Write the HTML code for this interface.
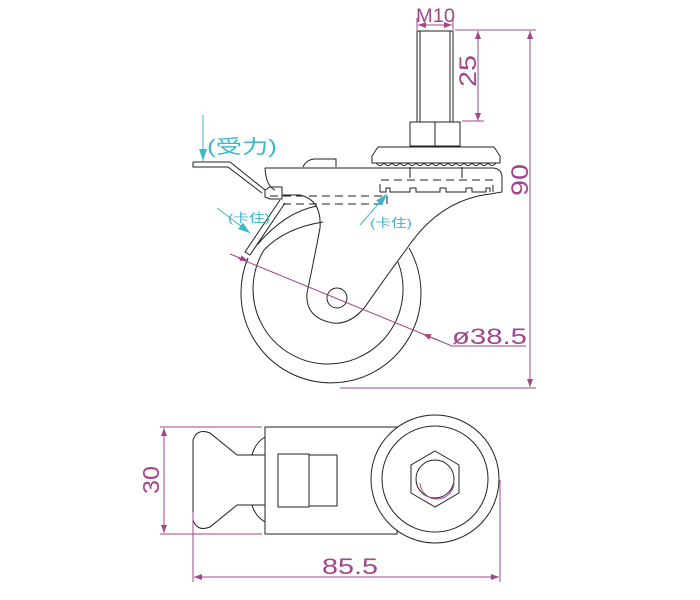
<!DOCTYPE html>
<html><head><meta charset="utf-8"><style>html,body{margin:0;padding:0;background:#fff}svg{display:block}</style></head>
<body>
<svg width="700" height="600" viewBox="0 0 700 600" xmlns="http://www.w3.org/2000/svg">
<defs>
<marker id="a" markerWidth="8" markerHeight="6" refX="8" refY="3" orient="auto" markerUnits="userSpaceOnUse"><path d="M0,0 L8,3 L0,6 z" fill="#a0468c"/></marker>
<marker id="c" markerWidth="12" markerHeight="8" refX="12" refY="4" orient="auto" markerUnits="userSpaceOnUse"><path d="M0,0 L12,4 L0,8 z" fill="#3cb8c8"/></marker>
</defs>
<g fill="none" stroke="#222" stroke-width="1">
<rect x="417" y="31" width="36" height="91"/>
<line x1="420" y1="31" x2="420" y2="122"/><line x1="450" y1="31" x2="450" y2="122"/>
<rect x="410" y="122" width="50" height="24"/><line x1="435" y1="122" x2="435" y2="146"/>
<path d="M372,156 L378,147 L494,147 L500,156 L500,163 L372,163 Z"/>
<path d="M376,163 q4,5 8,0 q4,5 8,0 q4,5 8,0 q4,5 8,0 q4,5 8,0 q4,5 8,0 q4,5 8,0 q4,5 8,0 q4,5 8,0 q4,5 8,0 q4,5 8,0 q4,5 8,0 q4,5 8,0 q4,5 8,0 q4,5 8,0"/>
<line x1="410" y1="167" x2="410" y2="178"/><line x1="462" y1="167" x2="462" y2="178"/>
<path d="M265,168 L492,168 Q502,168 502,178 L502,192 L490,194 Q440,200 408,247"/>
<path d="M408,247 Q380,285 365,307 Q350,325 333,323 Q305,318 307,293 Q315,255 320,228 Q322,200 300,195 L282,195"/>
<path d="M265,168 Q266,186 275,190"/>
<path d="M303,167 Q306,160 314,159 L336,159 L336,167"/>
<path d="M380,192 L380,180 L493,180 L493,192" stroke-dasharray="8,5"/>
<path d="M380,192 L386,192 L386,188 L390,188 L390,192 L410,192 L410,188 L416,188 L416,192 L440,192 L440,188 L446,188 L446,192 L466,192 L466,188 L472,188 L472,192 L486,192 L486,188 L490,188 L490,192"/>
<path d="M270,196 L387,196 L387,204 L280,204" stroke-dasharray="8,5"/>
<path d="M193,162 L230,162 L265,190 L265,197 L270,199 L282,199 L282,187 L270,187 L265,190"/>
<path d="M193,162 L193,167 L228,167 L262,193"/>
<path d="M280,200 L245,252 L250,255 L285,203"/>
<path d="M248,258 A90,90 0 1,0 409,248"/>
<path d="M264,250 A75,75 0 1,0 398,262"/>
<path d="M264,250 Q285,228 323,222"/>
<path d="M257,245 Q285,212 317,206"/>
<circle cx="337" cy="298" r="10"/>
<rect x="265" y="427" width="132" height="107"/>
<circle cx="435" cy="479" r="64" fill="#fff"/>
<circle cx="435" cy="479" r="53"/>
<polygon points="435,451 459,465 459,493 435,507 411,493 411,465"/>
<circle cx="435" cy="479" r="19"/>
<path d="M420,483 A17,17 0 0,0 454,481" stroke="#a0468c"/>
<path d="M237,455 L265,455 L265,505 L237,505"/>
<path d="M237,455 L210,433 Q197,428 193,440 L193,520 Q197,532 210,527 L237,505"/>
<path d="M265,437 Q255,443 252,455 M265,522 Q255,516 252,505"/>
<rect x="278" y="454" width="31" height="53"/>
<rect x="309" y="455" width="28" height="51"/>
</g>
<g fill="none" stroke="#a0468c" stroke-width="1">
<line x1="417" y1="18" x2="417" y2="30"/><line x1="453" y1="18" x2="453" y2="30"/>
<line x1="435" y1="25" x2="418" y2="25" marker-end="url(#a)"/><line x1="435" y1="25" x2="452" y2="25" marker-end="url(#a)"/>
<line x1="455" y1="30" x2="536" y2="30"/>
<line x1="462" y1="121" x2="484" y2="121"/>
<line x1="478" y1="75" x2="478" y2="31" marker-end="url(#a)"/><line x1="478" y1="75" x2="478" y2="121" marker-end="url(#a)"/>
<line x1="530" y1="200" x2="530" y2="31" marker-end="url(#a)"/><line x1="530" y1="200" x2="530" y2="387" marker-end="url(#a)"/>
<line x1="340" y1="388" x2="536" y2="388"/>
<line x1="238" y1="258" x2="452" y2="346"/><line x1="452" y1="346" x2="526" y2="346"/>
<line x1="230" y1="254" x2="248" y2="261" marker-end="url(#a)"/><line x1="440" y1="341" x2="423" y2="334" marker-end="url(#a)"/>
<line x1="160" y1="427" x2="262" y2="427"/><line x1="160" y1="534" x2="262" y2="534"/>
<line x1="164" y1="480" x2="164" y2="428" marker-end="url(#a)"/><line x1="164" y1="480" x2="164" y2="533" marker-end="url(#a)"/>
<line x1="193" y1="512" x2="193" y2="582"/><line x1="500" y1="480" x2="500" y2="582"/>
<line x1="340" y1="577" x2="194" y2="577" marker-end="url(#a)"/><line x1="340" y1="577" x2="499" y2="577" marker-end="url(#a)"/>
</g>
<g fill="#a0468c" font-family="Liberation Sans, sans-serif">
<text x="416" y="22" font-size="19" textLength="39" lengthAdjust="spacingAndGlyphs">M10</text>
<text x="0" y="0" font-size="24" text-anchor="middle" textLength="32" lengthAdjust="spacingAndGlyphs" transform="translate(476,71) rotate(-90)">25</text>
<text x="0" y="0" font-size="24" text-anchor="middle" textLength="32" lengthAdjust="spacingAndGlyphs" transform="translate(528,180) rotate(-90)">90</text>
<text x="452" y="344" font-size="22" textLength="75" lengthAdjust="spacingAndGlyphs">ø38.5</text>
<text x="0" y="0" font-size="23" text-anchor="middle" textLength="28" lengthAdjust="spacingAndGlyphs" transform="translate(159,480) rotate(-90)">30</text>
<text x="322" y="574" font-size="22" textLength="56" lengthAdjust="spacingAndGlyphs">85.5</text>
</g>
<g stroke="#3cb8c8" stroke-width="1" fill="none">
<line x1="203" y1="115" x2="203" y2="161" marker-end="url(#c)"/>
<line x1="217" y1="208" x2="250" y2="233" marker-end="url(#c)"/>
<line x1="360" y1="225" x2="387" y2="194" marker-end="url(#c)"/>
</g>
<g fill="#3cb8c8" font-family="Liberation Sans, 'Noto Sans CJK SC', sans-serif">
<text x="207" y="153" font-size="19" textLength="70" lengthAdjust="spacingAndGlyphs">(受力)</text>
<text x="228" y="222" font-size="12" textLength="42" lengthAdjust="spacingAndGlyphs">(卡住)</text>
<text x="370" y="227" font-size="12" textLength="42" lengthAdjust="spacingAndGlyphs">(卡住)</text>
</g>
</svg>
</body></html>
